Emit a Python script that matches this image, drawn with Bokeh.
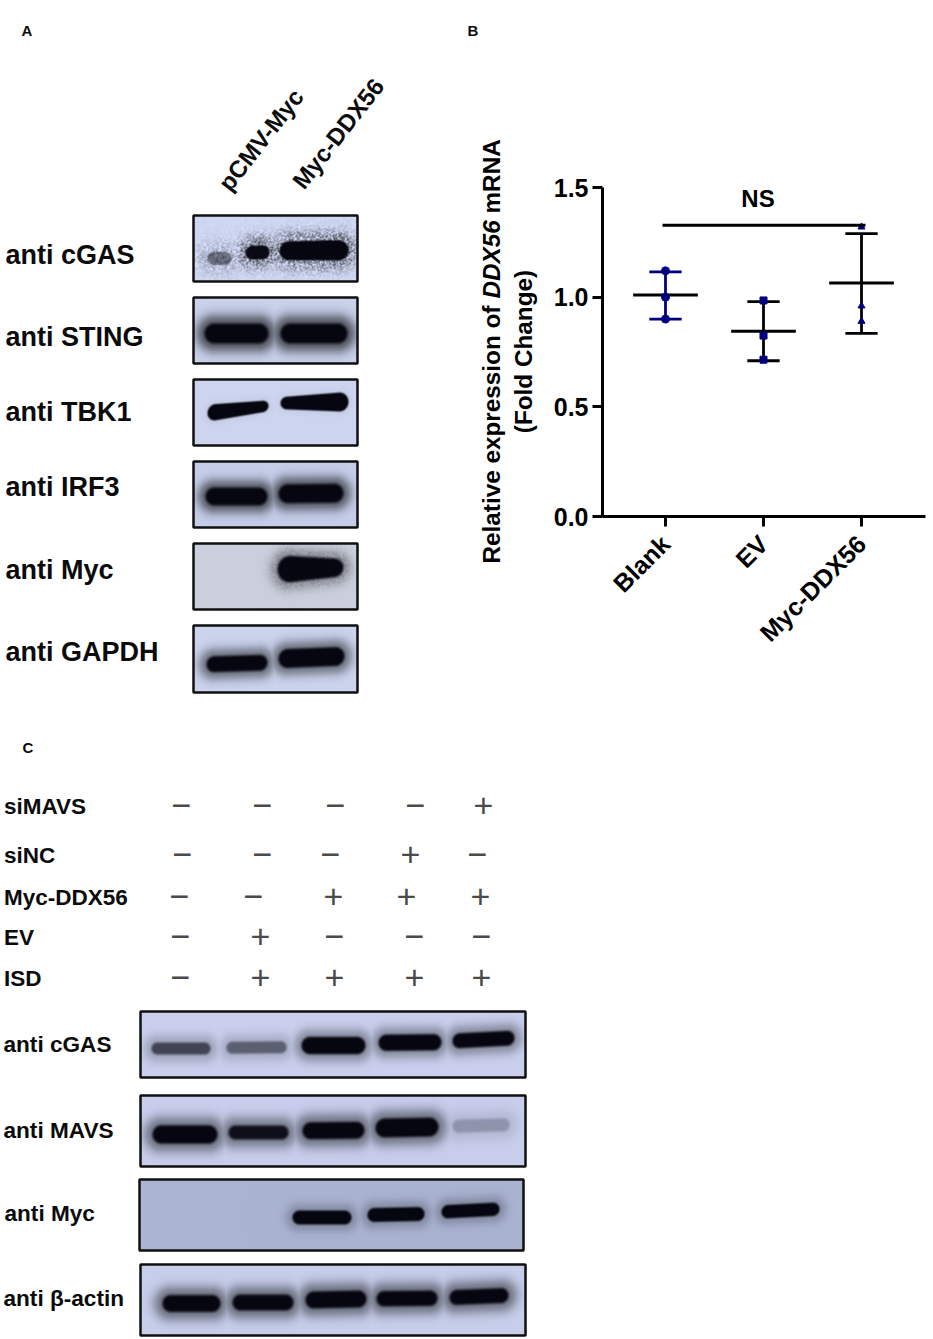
import math
import numpy as np
from bokeh.plotting import figure
from bokeh.layouts import column, row
from bokeh.models import Range1d, FixedTicker
from bokeh.core.properties import value
from bokeh.embed import file_html
from bokeh.resources import INLINE

# ---------- data ----------
groups = ["Blank", "EV", "Myc-DDX56"]
blank_points = [1.12, 1.00, 0.90]
ev_points = [0.985, 0.825, 0.715]
myc_points = [1.32, 0.96, 0.89]
means = [1.01, 0.845, 1.065]
err_hi = [1.115, 0.98, 1.29]
err_lo = [0.90, 0.71, 0.835]
ns_level = 1.328
y_ticks = [0.0, 0.5, 1.0, 1.5]

a_labels = ["anti cGAS", "anti STING", "anti TBK1", "anti IRF3", "anti Myc", "anti GAPDH"]
a_lanes = ["pCMV-Myc", "Myc-DDX56"]
c_rows = ["siMAVS", "siNC", "Myc-DDX56", "EV", "ISD"]
c_state = [
    ["-", "-", "-", "-", "+"],
    ["-", "-", "-", "+", "-"],
    ["-", "-", "+", "+", "+"],
    ["-", "+", "-", "-", "-"],
    ["-", "+", "+", "+", "+"],
]
c_labels = ["anti cGAS", "anti MAVS", "anti Myc", "anti β-actin"]

# band densities read from the blots
a_density = [[0.45, 0.97, 1.0], [1, 1], [1, 1], [1, 1], [1], [1, 1]]
c_density = [
    [0.62, 0.48, 1, 1, 1],
    [1, 0.92, 1, 1, 0.22],
    [1, 1, 1],
    [1, 1, 1, 1, 1],
]

# ---------- layout (window pixels) ----------
FONT = value("Liberation Sans")
WA, HA, WB, HC = 540, 728, 393, 611
INK = "#0b0b0b"

# (left, right, cy, half thickness, slope, taper)
a_geom = [
    [(207, 231, 258, 6.5, 0, 0), (245, 269, 252, 7, -0.03, 0), (279, 348, 250, 9.8, -0.01, 0.05)],
    [(204, 268, 333, 10, 0, 0), (280, 347, 333, 10, 0, 0)],
    [(207, 268, 409, 7, -0.12, -0.22), (280, 348, 402, 8, -0.02, 0.25)],
    [(205, 267, 496, 9, 0, 0), (278, 343, 493, 9.5, -0.01, 0)],
    [(277, 343, 568, 11.5, -0.03, -0.25)],
    [(206, 267, 663, 8, -0.03, 0), (278, 344, 657, 9.5, -0.04, 0)],
]
# (left, top, right, bottom, background rgb, halo strength, halo width, softness, grain)
a_panels = [
    (193, 215, 357, 281, (208, 215, 242), 0.27, 11, 1.2, 1.0),
    (193, 297, 357, 363, (202, 210, 236), 0.55, 10, 2.5, 0),
    (193, 379, 357, 445, (206, 213, 240), 0.03, 5, 1.3, 0),
    (193, 461, 357, 527, (198, 206, 234), 0.50, 9, 2.5, 0),
    (193, 543, 357, 609, (204, 208, 222), 0.30, 9, 2.2, 0.18),
    (193, 625, 357, 692, (204, 212, 238), 0.42, 9, 2.3, 0),
]
a_label_y = [254, 336, 411, 486, 569, 651]
a_lane_xy = [(223, 187), (297, 185)]

c_geom = [
    [(151, 210, 1048, 6, 0, 0), (226, 286, 1047, 6, -0.01, 0), (301, 365, 1045, 8.7, 0, 0),
     (378, 441, 1042, 8.2, -0.01, 0), (452, 514, 1039, 7.5, -0.05, 0)],
    [(152, 217, 1134, 9.2, 0, 0), (228, 288, 1132, 7, 0, 0), (302, 364, 1130, 8.5, -0.01, 0),
     (375, 438, 1127, 9.5, -0.02, 0), (452, 509, 1125, 6.5, -0.03, 0)],
    [(292, 351, 1217, 7, 0, 0), (367, 424, 1214, 7, -0.02, 0), (441, 499, 1210, 6.7, -0.05, 0)],
    [(162, 220, 1303, 8.5, 0.0, 0), (232, 293, 1302, 8, 0, 0), (305, 366, 1299, 8.5, -0.02, 0),
     (376, 437, 1298, 7.7, -0.01, 0), (449, 508, 1296, 7.5, -0.04, 0)],
]
c_panels = [
    (140, 1011, 525, 1077, (202, 208, 238), 0.30, 9, 2.2, 0),
    (140, 1095, 525, 1166, (200, 206, 236), 0.40, 10, 2.4, 0),
    (139, 1179, 523, 1250, (170, 179, 210), 0.20, 8, 1.8, 0),
    (140, 1264, 525, 1335, (200, 207, 236), 0.42, 10, 2.4, 0),
]
c_label_y = [1044, 1130, 1213, 1298]
c_label_x = [3, 3, 4, 3]
c_row_y = [806, 855, 897, 937, 978]
c_row_x = [
    [181, 262, 335, 415, 483],
    [182, 262, 330, 410, 477],
    [179, 253, 333, 406, 480],
    [180, 260, 334, 414, 481],
    [180, 260, 334, 414, 481],
]


def smooth(t):
    t = np.clip(t, 0, 1)
    return t * t * (3 - 2 * t)


def blot_rgba(panel, geom, density):
    l, t, r, b, bg, halo_k, halo_w, soft, grain = panel
    xs = np.arange(l, r) + 0.5
    ys = np.arange(t, b) + 0.5
    X, Y = np.meshgrid(xs, ys)
    core = np.zeros_like(X)
    halo = np.zeros_like(X)
    for (bl, br, cy, h, slope, taper), d in zip(geom, density):
        cx, w = (bl + br) / 2, (br - bl) / 2
        u = np.clip((X - cx) / w, -1, 1)
        hl = h * (1 + taper * u)
        yc = cy + slope * (X - cx)
        dx = np.maximum(np.abs(X - cx) - (w - hl), 0)
        dist = np.sqrt(dx ** 2 + (Y - yc) ** 2) - hl
        core = np.maximum(core, d * (1 - smooth((dist + soft) / (2 * soft))))
        halo = np.maximum(halo, d * np.exp(-(np.maximum(dist, 0) / halo_w) ** 2))
    base = np.array(bg, dtype=float)
    if grain:
        # fixed film-grain texture from a position hash
        g = np.sin(X * 12.9898 + Y * 78.233) * 43758.5453
        g = g - np.floor(g)
        field = 1 - halo_k * halo * (1 + grain * 2 * (2 * g - 1)) - grain * 0.06 * (g - 0.5)
    else:
        field = 1 - halo_k * halo
    rgba = np.zeros(X.shape + (4,), dtype=np.uint8)
    dark = np.array([6, 6, 16], dtype=float)
    for i in range(3):
        c = base[i] * np.clip(field, 0.05, 1.05)
        c = c * (1 - core) + dark[i] * core
        rgba[..., i] = np.clip(c, 0, 255).astype(np.uint8)
    rgba[..., 3] = 255
    return rgba[::-1].view(np.uint32).reshape(X.shape)


def canvas(w, h):
    f = figure(width=w, height=h, x_range=Range1d(0, w), y_range=Range1d(0, h),
               x_axis_type=None, y_axis_type=None, toolbar_location=None,
               output_backend="svg", min_border=0, outline_line_color=None)
    f.grid.visible = False
    f.frame_align = False
    return f


def add_blots(f, oy, h, panels, geoms, densities):
    for panel, geom, dens in zip(panels, geoms, densities):
        l, t, r, b = panel[:4]
        img = blot_rgba(panel, geom, dens)
        f.image_rgba(image=[img], x=l, y=h - (b - oy), dw=r - l, dh=b - t)
        f.quad(left=[l], right=[r], top=[h - (t - oy)], bottom=[h - (b - oy)],
               fill_color=None, line_color="#101010", line_width=2.5)


def add_text(f, x, y, txt, size, angle=0.0, style="bold", align="left", baseline="middle", color=INK):
    f.text(x=[x], y=[y], text=[txt], text_font=FONT, text_font_style=style, text_font_size=size,
           text_color=color, text_align=align, text_baseline=baseline, angle=angle)


# ---------- panel A ----------
pa = canvas(WA, HA)
add_blots(pa, 0, HA, a_panels, a_geom, a_density)
add_text(pa, 21, HA - 30, "A", "15px")
for name, ay in zip(a_labels, a_label_y):
    add_text(pa, 5, HA - ay, name, "27px")
for name, (ax, ay) in zip(a_lanes, a_lane_xy):
    add_text(pa, ax, HA - ay, name, "24px", angle=math.radians(52))

# panel B letter and y title sit left of the plot's own frame
add_text(pa, 467, HA - 30, "B", "15px")
up = math.pi / 2
add_text(pa, 491, HA - 563, "Relative expression of", "24.3px", angle=up, color="#000000")
add_text(pa, 491, HA - 298, "DDX56", "24.3px", angle=up, style="bold italic", color="#000000")
add_text(pa, 491, HA - 213, "mRNA", "24.3px", angle=up, color="#000000")
add_text(pa, 523, HA - 351, "(Fold Change)", "24.3px", angle=up, align="center", color="#000000")

# ---------- panel B ----------
X0, DX, Y0, DY = 665, 98, 516, 329 / 1.5
x_lo, x_hi = (602 - X0) / DX, (925 - X0) / DX
BT, BB = 187, HA - 516
pb = figure(width=WB, height=HA, x_range=Range1d(x_lo, x_hi), y_range=Range1d(0, 1.5),
            toolbar_location=None, output_backend="svg", outline_line_color=None,
            min_border_left=602 - WA, min_border_right=8, min_border_top=BT, min_border_bottom=BB)
pb.frame_align = False
pb.grid.visible = False
pos = list(range(len(groups)))
pb.xaxis.ticker = FixedTicker(ticks=pos)
pb.xaxis.major_label_overrides = {i: g for i, g in zip(pos, groups)}
pb.xaxis.major_label_orientation = math.radians(45)
pb.yaxis.ticker = FixedTicker(ticks=y_ticks)
pb.yaxis.major_label_overrides = {t: f"{t:.1f}" for t in y_ticks}
for ax in (pb.xaxis[0], pb.yaxis[0]):
    ax.axis_line_width = 3
    ax.axis_line_color = "#000000"
    ax.major_tick_line_width = 3
    ax.major_tick_line_color = "#000000"
    ax.major_tick_out = 10
    ax.major_tick_in = 0
    ax.minor_tick_line_color = None
    ax.major_label_text_font = "Liberation Sans"
    ax.major_label_text_font_style = "bold"
    ax.major_label_text_font_size = "25px"
    ax.major_label_text_color = "#000000"
pb.xaxis.major_label_standoff = 13
pb.yaxis.major_label_standoff = 4

NAVY = "#00007f"
whisk_cols = [NAVY, "#000000", "#000000"]
cap_cols = [NAVY, "#000000", "#000000"]
CAP, MEAN = 0.165, 0.33
pts = [blank_points, ev_points, myc_points]
pb.segment(x0=pos, x1=pos, y0=err_lo, y1=err_hi, line_color=whisk_cols, line_width=2.8)
pb.segment(x0=[p - CAP for p in pos], x1=[p + CAP for p in pos], y0=err_hi, y1=err_hi, line_color=cap_cols, line_width=2.8)
pb.segment(x0=[p - CAP for p in pos], x1=[p + CAP for p in pos], y0=err_lo, y1=err_lo, line_color=cap_cols, line_width=2.8)
pb.segment(x0=[p - MEAN for p in pos], x1=[p + MEAN for p in pos], y0=means, y1=means, line_color="#000000", line_width=3)
for p, vals, mk, sz in zip(pos, pts, ["circle", "square", "triangle"], [8, 7, 7]):
    pb.scatter(x=[p] * 3, y=vals, marker=mk, size=sz, fill_color=NAVY, line_color=NAVY)
pb.segment(x0=[(662 - X0) / DX], x1=[(865 - X0) / DX], y0=[ns_level], y1=[ns_level], line_color="#000000", line_width=3)
add_text(pb, (757.5 - X0) / DX, (Y0 - 198) / DY, "NS", "24px", align="center", color="#000000")

# ---------- panel C ----------
pc = canvas(WA + WB, HC)
OY2 = HA
add_blots(pc, OY2, HC, c_panels, c_geom, c_density)
add_text(pc, 22, HC - (747 - OY2), "C", "15px")
for name, ay in zip(c_rows, c_row_y):
    add_text(pc, 3.5, HC - (ay - OY2), name, "22.5px")
for states, xs, ay in zip(c_state, c_row_x, c_row_y):
    for s, ax in zip(states, xs):
        glyph = "+" if s == "+" else "\u2212"
        add_text(pc, ax, HC - (ay - 1 - OY2), glyph, "34px", style="normal", align="center",
                 baseline="alphabetic", color="#4a4a4a")
for name, ax, ay in zip(c_labels, c_label_x, c_label_y):
    add_text(pc, ax, HC - (ay - OY2), name, "22.6px")

page = column(row(pa, pb, spacing=0), pc, spacing=0)
open("out.html", "w").write(file_html(page, INLINE))
